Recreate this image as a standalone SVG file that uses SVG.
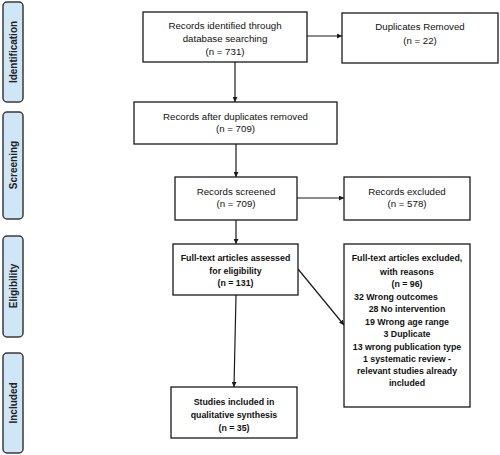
<svg xmlns="http://www.w3.org/2000/svg" width="500" height="455" viewBox="0 0 500 455">
<style>
.box{fill:#fff;stroke:#1a1a1a;stroke-width:1.3}
.side{fill:#cfe6f7;stroke:#3a3a3a;stroke-width:1.5}
.t{font-family:"Liberation Sans",Arial,sans-serif;font-size:9.7px;fill:#111;text-anchor:middle}
.b{font-weight:bold;font-size:8.8px}
.s{font-family:"Liberation Sans",Arial,sans-serif;font-size:10px;font-weight:bold;fill:#222;text-anchor:middle}
.c{stroke:#1a1a1a;stroke-width:1.2;fill:none;marker-end:url(#ah)}
</style>
<defs>
<marker id="ah" viewBox="0 0 10 10" refX="10" refY="5" markerWidth="5" markerHeight="5" markerUnits="userSpaceOnUse" orient="auto">
<path d="M0,0 L10,5 L0,10 z" fill="#1a1a1a"/>
</marker>
</defs>
<g id="side-identification"><rect class="side" x="3" y="2" width="20" height="100" rx="4"/><text class="s" transform="translate(16.5,52) rotate(-90)">Identification</text></g>
<g id="side-screening"><rect class="side" x="3" y="112" width="20" height="107" rx="4"/><text class="s" transform="translate(16.5,165) rotate(-90)">Screening</text></g>
<g id="side-eligibility"><rect class="side" x="3" y="236" width="20" height="101" rx="4"/><text class="s" transform="translate(16.5,286) rotate(-90)">Eligibility</text></g>
<g id="side-included"><rect class="side" x="3" y="353" width="20" height="100" rx="4"/><text class="s" transform="translate(16.5,403) rotate(-90)">Included</text></g>

<g id="connectors">
<line class="c" x1="235" y1="62" x2="235" y2="102"/>
<line class="c" x1="307" y1="36" x2="342" y2="36"/>
<line class="c" x1="236" y1="144" x2="236" y2="177"/>
<line class="c" x1="236" y1="220" x2="236" y2="244"/>
<line class="c" x1="297" y1="198" x2="344" y2="198"/>
<line class="c" x1="236" y1="295" x2="234" y2="387"/>
<line class="c" x1="298" y1="269" x2="344" y2="325"/>
</g>

<g id="n-identified"><rect class="box" x="143" y="12" width="164" height="50"/>
<text class="t" x="225" y="29">Records identified through</text>
<text class="t" x="225" y="42">database searching</text>
<text class="t" x="225" y="55">(n = 731)</text></g>
<g id="n-duplicates"><rect class="box" x="342" y="13" width="156" height="50"/>
<text class="t" x="420" y="30">Duplicates Removed</text>
<text class="t" x="420" y="44">(n = 22)</text></g>
<g id="n-after"><rect class="box" x="134" y="102" width="203" height="42"/>
<text class="t" x="235.5" y="120">Records after duplicates removed</text>
<text class="t" x="235.5" y="132">(n = 709)</text></g>
<g id="n-screened"><rect class="box" x="175" y="177" width="122" height="43"/>
<text class="t" x="236" y="195">Records screened</text>
<text class="t" x="236" y="207">(n = 709)</text></g>
<g id="n-excluded"><rect class="box" x="344" y="177" width="126" height="43"/>
<text class="t" x="407" y="195">Records excluded</text>
<text class="t" x="407" y="207">(n = 578)</text></g>
<g id="n-fulltext"><rect class="box" x="173" y="244" width="125" height="51"/>
<text class="t b" x="235.5" y="261">Full-text articles assessed</text>
<text class="t b" x="235.5" y="274">for eligibility</text>
<text class="t b" x="235.5" y="286">(n = 131)</text></g>
<g id="n-ftexcluded"><rect class="box" x="344" y="244" width="126" height="163"/>
<text class="t b" x="407" y="261">Full-text articles excluded,</text>
<text class="t b" x="407" y="275">with reasons</text>
<text class="t b" x="407" y="287">(n = 96)</text>
<text class="t b" x="354" y="300" style="text-anchor:start">32 Wrong outcomes</text>
<text class="t b" x="407" y="312">28 No intervention</text>
<text class="t b" x="407" y="325">19 Wrong age range</text>
<text class="t b" x="407" y="337">3 Duplicate</text>
<text class="t b" x="407" y="350">13 wrong publication type</text>
<text class="t b" x="407" y="362">1 systematic review -</text>
<text class="t b" x="407" y="374">relevant studies already</text>
<text class="t b" x="407" y="386">included</text></g>
<g id="n-included"><rect class="box" x="171" y="387" width="126" height="51"/>
<text class="t b" x="234" y="405">Studies included in</text>
<text class="t b" x="234" y="418">qualitative synthesis</text>
<text class="t b" x="234" y="431">(n = 35)</text></g>
</svg>
